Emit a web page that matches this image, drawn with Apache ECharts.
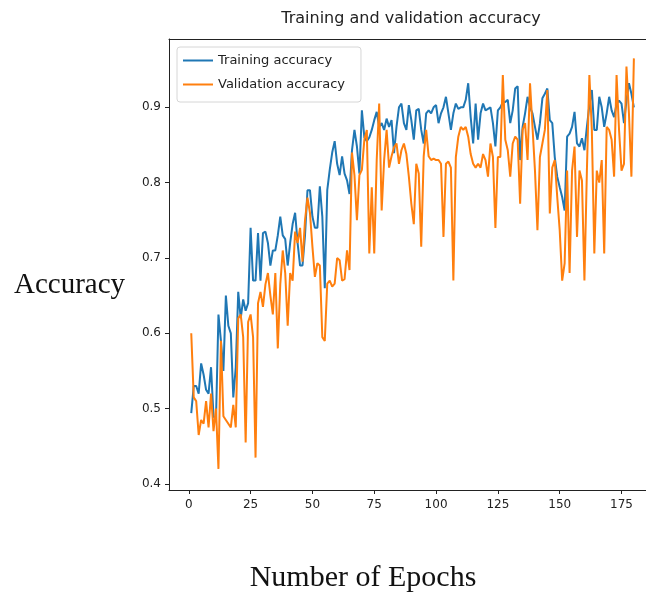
<!DOCTYPE html>
<html>
<head>
<meta charset="utf-8">
<script src="https://cdn.jsdelivr.net/npm/echarts@6/dist/echarts.min.js"></script>
<style>
  html, body { margin: 0; padding: 0; background: #fff; }
  #chart { width: 646px; height: 599px; }
</style>
</head>
<body>
<div id="chart"></div>
<script>
// epochs 1..180
const epochs = Array.from({ length: 180 }, (_, i) => i + 1)

const trainAcc = [
  0.494, 0.53, 0.53, 0.52, 0.56, 0.545, 0.525, 0.52, 0.555, 0.49,
  0.485, 0.625, 0.59, 0.55, 0.65, 0.61, 0.60, 0.515, 0.555, 0.655,
  0.62, 0.645, 0.63, 0.64, 0.74, 0.67, 0.67, 0.733, 0.67, 0.733,
  0.735, 0.72, 0.69, 0.71, 0.71, 0.73, 0.755, 0.73, 0.725, 0.69,
  0.72, 0.745, 0.76, 0.72, 0.69, 0.69, 0.73, 0.79, 0.79, 0.755,
  0.74, 0.74, 0.795, 0.755, 0.66, 0.79, 0.817, 0.84, 0.855, 0.825,
  0.81, 0.835, 0.812, 0.803, 0.785, 0.843, 0.87, 0.848, 0.812, 0.896,
  0.86, 0.855, 0.86, 0.87, 0.883, 0.894, 0.874, 0.879, 0.87, 0.885,
  0.874, 0.883, 0.839, 0.874, 0.90, 0.905, 0.879, 0.87, 0.903, 0.883,
  0.857, 0.896, 0.898, 0.87, 0.852, 0.892, 0.896, 0.892, 0.90, 0.903,
  0.879, 0.892, 0.90, 0.914, 0.892, 0.87, 0.892, 0.905, 0.898, 0.90,
  0.90, 0.91, 0.932, 0.887, 0.852, 0.905, 0.857, 0.892, 0.905, 0.896,
  0.898, 0.90, 0.879, 0.848, 0.896, 0.90, 0.907, 0.907, 0.91, 0.879,
  0.896, 0.925, 0.928, 0.83, 0.874, 0.892, 0.914, 0.90, 0.892, 0.874,
  0.857, 0.879, 0.912, 0.918, 0.925, 0.883, 0.879, 0.834, 0.808, 0.794,
  0.781, 0.763, 0.861, 0.865, 0.874, 0.894, 0.852, 0.848, 0.859, 0.843,
  0.874, 0.903, 0.923, 0.87, 0.87, 0.914, 0.90, 0.874, 0.892, 0.914,
  0.896, 0.887, 0.905, 0.909, 0.905, 0.879, 0.909, 0.932, 0.918, 0.90
]

const valAcc = [
  0.60, 0.515, 0.51, 0.465, 0.485, 0.48, 0.51, 0.475, 0.52, 0.47,
  0.50, 0.42, 0.59, 0.49, 0.485, 0.48, 0.475, 0.505, 0.475, 0.62,
  0.625, 0.595, 0.455, 0.615, 0.625, 0.595, 0.435, 0.64, 0.655, 0.635,
  0.665, 0.68, 0.65, 0.625, 0.68, 0.58, 0.665, 0.71, 0.68, 0.61,
  0.68, 0.67, 0.735, 0.72, 0.74, 0.695, 0.75, 0.78, 0.76, 0.715,
  0.675, 0.693, 0.69, 0.595, 0.59, 0.666, 0.67, 0.662, 0.666, 0.70,
  0.697, 0.67, 0.672, 0.71, 0.684, 0.84, 0.81, 0.75, 0.81, 0.817,
  0.857, 0.87, 0.706, 0.794, 0.706, 0.83, 0.905, 0.763, 0.83, 0.87,
  0.82, 0.835, 0.847, 0.852, 0.825, 0.843, 0.852, 0.838, 0.808, 0.772,
  0.745, 0.825, 0.812, 0.715, 0.835, 0.87, 0.835, 0.83, 0.832, 0.83,
  0.83, 0.825, 0.728, 0.825, 0.828, 0.82, 0.67, 0.834, 0.861, 0.874,
  0.87, 0.874, 0.861, 0.838, 0.825, 0.82, 0.825, 0.82, 0.838, 0.83,
  0.808, 0.852, 0.834, 0.74, 0.834, 0.834, 0.943, 0.857, 0.843, 0.808,
  0.852, 0.861, 0.857, 0.772, 0.87, 0.879, 0.83, 0.932, 0.874, 0.816,
  0.737, 0.834, 0.852, 0.87, 0.923, 0.759, 0.82, 0.83, 0.781, 0.737,
  0.67, 0.693, 0.816, 0.68, 0.816, 0.848, 0.728, 0.816, 0.803, 0.67,
  0.816, 0.943, 0.87, 0.706, 0.816, 0.80, 0.83, 0.706, 0.874, 0.87,
  0.857, 0.808, 0.943, 0.87, 0.816, 0.825, 0.954, 0.892, 0.808, 0.965
]

const xTicks = [0, 25, 50, 75, 100, 125, 150, 175]
const yTicks = [0.4, 0.5, 0.6, 0.7, 0.8, 0.9]

const chart = echarts.init(document.getElementById('chart'), null, { renderer: 'canvas' })

const axisText = { color: '#222', fontSize: 12, fontFamily: 'DejaVu Sans' }
const frame = { show: true, onZero: false, lineStyle: { color: '#222', width: 1 } }

chart.setOption({
  animation: false,
  backgroundColor: '#fff',
  // the picture is cut at the right, so the plot box runs to the edge
  grid: { left: 169, top: 39, right: 0, bottom: 109 },
  legend: {
    orient: 'vertical',
    left: 177, top: 47,
    padding: [7, 16, 11, 6],
    itemGap: 11,
    itemWidth: 30, itemHeight: 2,
    icon: 'rect',
    backgroundColor: '#fff',
    borderColor: '#d6d6d6', borderWidth: 1, borderRadius: 3,
    textStyle: { color: '#222', fontSize: 13, fontFamily: 'DejaVu Sans' },
    data: ['Training accuracy', 'Validation accuracy']
  },
  xAxis: [
    {
      type: 'value',
      min: -8.0, max: 184.9,
      splitLine: { show: false },
      axisLine: frame,
      axisTick: { show: true, length: 4, customValues: xTicks, lineStyle: { color: '#222' } },
      axisLabel: { ...axisText, margin: 9, customValues: xTicks }
    },
    {
      // top spine only
      type: 'value', position: 'top',
      min: -8.0, max: 184.9,
      splitLine: { show: false },
      axisLine: frame,
      axisTick: { show: false },
      axisLabel: { show: false }
    }
  ],
  yAxis: {
    type: 'value',
    min: 0.392, max: 0.9907,
    splitLine: { show: false },
    axisLine: frame,
    axisTick: { show: true, length: 4, customValues: yTicks, lineStyle: { color: '#222' } },
    axisLabel: { ...axisText, margin: 8, customValues: yTicks, formatter: v => v.toFixed(1) }
  },
  graphic: [
    {
      type: 'text', x: 411, y: 19,
      style: {
        text: 'Training and validation accuracy', fill: '#222', fontSize: 16,
        fontFamily: 'DejaVu Sans', textAlign: 'center', textVerticalAlign: 'middle'
      }
    },
    {
      type: 'text', x: 14, y: 285,
      style: { text: 'Accuracy', fill: '#111', fontSize: 29, fontFamily: 'Liberation Serif', textVerticalAlign: 'middle' }
    },
    {
      type: 'text', x: 363, y: 578,
      style: {
        text: 'Number of Epochs', fill: '#111', fontSize: 30, fontFamily: 'Liberation Serif',
        textAlign: 'center', textVerticalAlign: 'middle'
      }
    }
  ],
  series: [
    {
      name: 'Training accuracy',
      type: 'line',
      data: epochs.map((e, i) => [e, trainAcc[i]]),
      showSymbol: false,
      lineStyle: { color: '#1f77b4', width: 2 },
      itemStyle: { color: '#1f77b4' }
    },
    {
      name: 'Validation accuracy',
      type: 'line',
      data: epochs.map((e, i) => [e, valAcc[i]]),
      showSymbol: false,
      lineStyle: { color: '#ff7f0e', width: 2 },
      itemStyle: { color: '#ff7f0e' }
    }
  ]
})
</script>
</body>
</html>
